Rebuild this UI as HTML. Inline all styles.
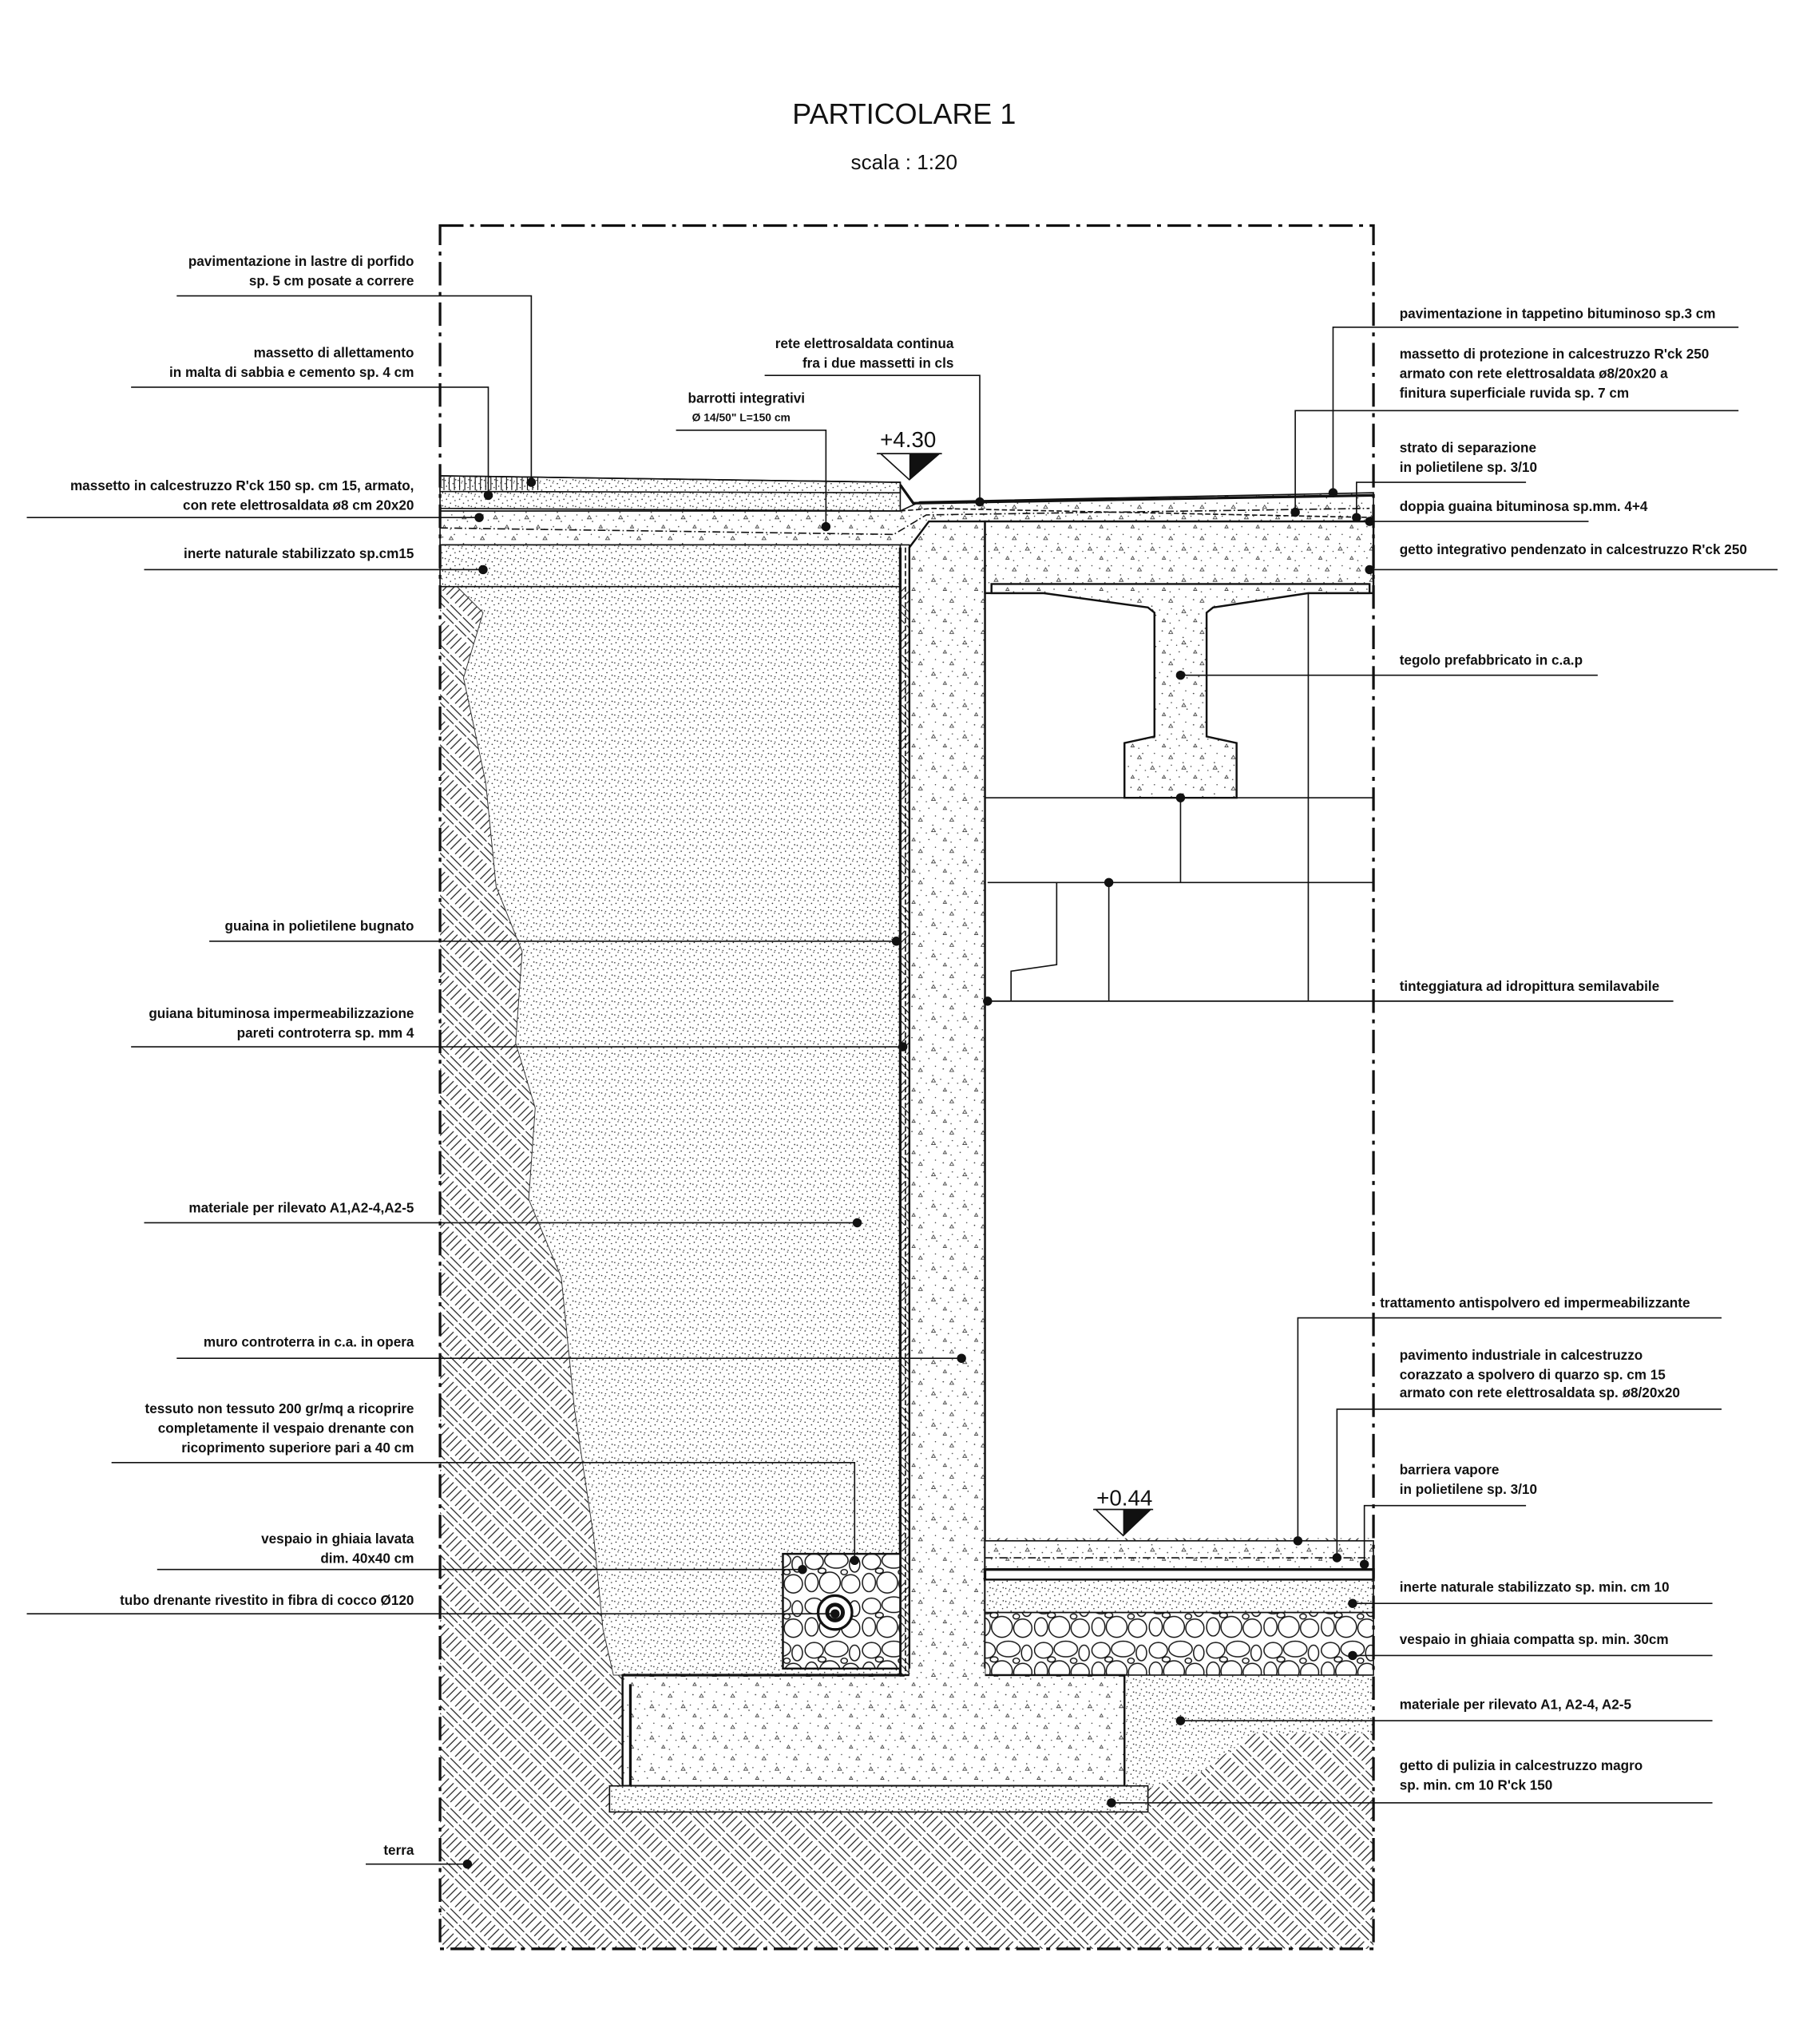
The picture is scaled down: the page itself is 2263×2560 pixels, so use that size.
<!DOCTYPE html>
<html><head><meta charset="utf-8">
<style>
html,body{margin:0;padding:0;background:#fff;}
svg{display:block;}
text{font-family:"Liberation Sans",sans-serif;fill:#111;}
.l{font-size:10.5px;font-weight:bold;}
</style></head><body>
<svg width="2263" height="2560" viewBox="0 0 1385 1568" xmlns="http://www.w3.org/2000/svg">
<defs>
<pattern id="terra" width="16" height="16" patternUnits="userSpaceOnUse" patternTransform="rotate(45) scale(1.7)">
<rect width="16" height="16" fill="#fff"/>
<g stroke="#222" stroke-width="0.45">
<path d="M0.5 1.5 H7.5 M0.5 4 H7.5 M0.5 6.5 H7.5"/>
<path d="M9.5 8.5 V15.5 M12 8.5 V15.5 M14.5 8.5 V15.5"/>
<path d="M1.5 8.5 V15.5 M4 8.5 V15.5 M6.5 8.5 V15.5"/>
<path d="M8.5 1.5 H15.5 M8.5 4 H15.5 M8.5 6.5 H15.5"/>
</g>
</pattern>
<pattern id="stip" width="10" height="10" patternUnits="userSpaceOnUse">
<rect width="10" height="10" fill="#fff"/>
<g fill="#222">
<circle cx="2" cy="3" r="0.5"/><circle cx="7" cy="1" r="0.5"/>
<circle cx="5" cy="6" r="0.5"/><circle cx="9" cy="8" r="0.5"/>
<circle cx="1" cy="8.5" r="0.5"/><circle cx="4" cy="9.2" r="0.45"/>
<circle cx="8.5" cy="4" r="0.45"/><circle cx="3.5" cy="0.5" r="0.4"/>
</g>
</pattern>
<pattern id="conc" width="24" height="24" patternUnits="userSpaceOnUse">
<rect width="24" height="24" fill="#fff"/>
<g fill="#333">
<circle cx="3" cy="4" r="0.5"/><circle cx="12" cy="2" r="0.5"/>
<circle cx="19" cy="9" r="0.5"/><circle cx="7" cy="15" r="0.5"/>
<circle cx="16" cy="20" r="0.5"/><circle cx="22" cy="16" r="0.5"/>
<circle cx="10" cy="11" r="0.45"/><circle cx="1" cy="12" r="0.45"/><circle cx="14" cy="15" r="0.45"/>
<circle cx="21" cy="2" r="0.45"/><circle cx="9" cy="22" r="0.45"/>
</g>
<path d="M8 6 l3 0 l-1.5 -2.5z M18 14 l3 0 l-1.5 -2.5z M3 21 l2.5 0 l-1.2 -2.2z" fill="none" stroke="#333" stroke-width="0.5"/>
</pattern>
<pattern id="gravel" width="44" height="34" patternUnits="userSpaceOnUse">
<rect width="44" height="34" fill="#fff"/>
<g fill="none" stroke="#111" stroke-width="0.9">
<ellipse cx="8" cy="8" rx="7" ry="6"/><ellipse cx="25" cy="7" rx="9" ry="6"/><ellipse cx="39" cy="10" rx="4" ry="6"/>
<ellipse cx="6" cy="24" rx="5" ry="7"/><ellipse cx="20" cy="24" rx="8" ry="8"/><ellipse cx="36" cy="25" rx="7" ry="7"/>
<ellipse cx="14" cy="15" rx="3" ry="2"/><ellipse cx="31" cy="16" rx="2.5" ry="2"/>
</g></pattern>
</defs>

<text x="693" y="95" font-size="22" text-anchor="middle">PARTICOLARE 1</text>
<text x="693" y="130" font-size="16" text-anchor="middle">scala : 1:20</text>

<rect x="337" y="450" width="716" height="1045" fill="url(#terra)"/>
<path d="M350 450 L690 450 L690 1285 L470 1285 L462 1250 L455 1180 L440 1080 L430 980 L405 920 L410 850 L395 800 L400 730 L380 680 L372 600 L355 520 L370 470 Z" fill="url(#stip)" stroke="#333" stroke-width="0.6"/>
<path d="M862 1285 L1053 1285 L1053 1330 L960 1330 L920 1360 L880 1372 L862 1370Z" fill="url(#stip)"/>
<rect x="755" y="455" width="298" height="725" fill="#fff"/>
<path d="M337 365 L690 370 L690 392 L337 390Z" fill="url(#stip)" stroke="#111"/>
<path d="M337 365 L690 370 L690 378 L337 377Z" fill="none" stroke="#111"/>
<g stroke="#111" stroke-width="0.7">
<path d="M340 366 v10 M344 366 v10 M348 366 v10 M352 366 v10 M356 366 v10 M360 366 v10 M364 366 v10 M368 366 v10 M372 366 v10 M376 366 v10 M380 366 v10 M384 366 v10 M388 366 v10 M392 366 v10 M396 366 v10 M400 366 v10 M404 366 v10 M408 366 v10 M412 366 v10"/>
</g>
<path d="M337 392 L690 392 L705 385 L1053 378 L1053 400 L755 400 L697 420 L697 418 L337 418Z" fill="url(#conc)" stroke="#111"/>
<path d="M337 405 L685 410 L710 395 L1050 390" fill="none" stroke="#111" stroke-dasharray="6 2 1 2"/>
<path d="M690 372 L700 386 L1053 380" fill="none" stroke="#111" stroke-width="2"/>
<path d="M690 392 L715 390 L1053 397" fill="none" stroke="#111" stroke-dasharray="4 2"/>
<rect x="337" y="418" width="353" height="32" fill="url(#stip)" stroke="#111"/>
<path d="M697 420 L712 400 L755 400 L755 1285 L697 1285Z" fill="url(#conc)" stroke="#111" stroke-width="1.5"/>
<line x1="690" y1="420" x2="690" y2="1285" stroke="#111" stroke-width="2"/>
<line x1="694" y1="420" x2="694" y2="1285" stroke="#111" stroke-width="1" stroke-dasharray="4 2"/>
<rect x="755" y="400" width="298" height="55" fill="url(#conc)" stroke="#111" stroke-width="1.5"/>
<path d="M760 448 L1050 448 L1050 455 L1003 455 L930 466 L925 470 L925 565 L948 570 L948 612 L862 612 L862 570 L885 565 L885 470 L880 466 L800 455 L760 455Z" fill="url(#conc)" stroke="#111" stroke-width="1.5"/>
<g stroke="#111" stroke-width="1" fill="none">
<line x1="755" y1="612" x2="1053" y2="612"/>
<line x1="905" y1="612" x2="905" y2="677"/>
<line x1="757" y1="677" x2="1053" y2="677"/>
<path d="M810 677 L810 740 L775 745 L775 768"/>
<line x1="850" y1="677" x2="850" y2="768"/>
<line x1="1003" y1="455" x2="1003" y2="768"/>
<line x1="757" y1="768" x2="1283" y2="768"/>
</g>
<rect x="755" y="1182" width="298" height="22" fill="url(#conc)" stroke="#111"/>
<line x1="755" y1="1195" x2="1053" y2="1195" stroke="#111" stroke-dasharray="6 2 1 2"/>
<rect x="755" y="1204" width="298" height="8" fill="#fff" stroke="#111" stroke-width="2"/>
<rect x="755" y="1212" width="298" height="25" fill="url(#stip)" stroke="#111"/>
<rect x="755" y="1237" width="298" height="48" fill="url(#gravel)" stroke="#111"/>
<rect x="477" y="1285" width="385" height="85" fill="url(#conc)" stroke="#111" stroke-width="1.5"/>
<rect x="697" y="1280" width="58" height="20" fill="url(#conc)"/>
<path d="M477 1285 L690 1285 M483 1292 L483 1370" stroke="#111" stroke-width="2" fill="none"/>
<rect x="467" y="1370" width="413" height="20" fill="url(#stip)" stroke="#111"/>
<rect x="600" y="1192" width="90" height="88" fill="url(#gravel)" stroke="#111" stroke-width="1.5"/>
<circle cx="640" cy="1237" r="13" fill="#fff" stroke="#111" stroke-width="2"/>
<circle cx="640" cy="1237" r="6" fill="#fff" stroke="#111" stroke-width="3"/>

<rect x="337" y="173" width="716" height="1322" fill="none" stroke="#111" stroke-width="2" stroke-dasharray="18 5 3 5"/>

<text x="696" y="343" font-size="17" text-anchor="middle">+4.30</text>
<line x1="672" y1="348" x2="722" y2="348" stroke="#111"/>
<path d="M675 348 L720 348 L697 368Z" fill="#fff" stroke="#111"/><path d="M697 348 L720 348 L697 368Z" fill="#111"/>
<text x="862" y="1155" font-size="17" text-anchor="middle">+0.44</text>
<line x1="838" y1="1158" x2="884" y2="1158" stroke="#111"/>
<path d="M840 1158 L882 1158 L861 1178Z" fill="#fff" stroke="#111"/><path d="M861 1158 L882 1158 L861 1178Z" fill="#111"/>

<g stroke="#111" stroke-width="1" fill="none">
<path d="M135 227 H407 V370"/>
<path d="M100 297 H374 V380"/>
<path d="M20 397 H367"/>
<path d="M110 437 H370"/>
<path d="M160 722 H687"/>
<path d="M100 803 H692"/>
<path d="M110 938 H657"/>
<path d="M135 1042 H737"/>
<path d="M85 1122 H655 V1197"/>
<path d="M120 1204 H615"/>
<path d="M20 1238 H640"/>
<path d="M280 1430 H358"/>
<path d="M586 288 H751 V385"/>
<path d="M518 330 H633 V404"/>
<path d="M1333 251 H1022 V378"/>
<path d="M1333 315 H993 V393"/>
<path d="M1170 370 H1040 V397"/>
<path d="M1050 400 H1218"/>
<path d="M1050 437 H1363"/>
<path d="M905 518 H1225"/>
<path d="M1320 1011 H995 V1182"/>
<path d="M1320 1081 H1025 V1195"/>
<path d="M1170 1155 H1046 V1200"/>
<path d="M1037 1230 H1313"/>
<path d="M1037 1270 H1313"/>
<path d="M905 1320 H1313"/>
<path d="M852 1383 H1313"/>
</g>
<g fill="#111">
<circle cx="407" cy="370" r="3.5"/><circle cx="374" cy="380" r="3.5"/><circle cx="367" cy="397" r="3.5"/><circle cx="370" cy="437" r="3.5"/>
<circle cx="687" cy="722" r="3.5"/><circle cx="692" cy="803" r="3.5"/><circle cx="657" cy="938" r="3.5"/><circle cx="737" cy="1042" r="3.5"/>
<circle cx="655" cy="1197" r="3.5"/><circle cx="615" cy="1204" r="3.5"/><circle cx="640" cy="1238" r="3.5"/><circle cx="358" cy="1430" r="3.5"/>
<circle cx="751" cy="385" r="3.5"/><circle cx="633" cy="404" r="3.5"/>
<circle cx="1022" cy="378" r="3.5"/><circle cx="993" cy="393" r="3.5"/><circle cx="1040" cy="397" r="3.5"/><circle cx="1050" cy="400" r="3.5"/><circle cx="1050" cy="437" r="3.5"/>
<circle cx="905" cy="518" r="3.5"/><circle cx="905" cy="612" r="3.5"/><circle cx="850" cy="677" r="3.5"/><circle cx="757" cy="768" r="3.5"/>
<circle cx="995" cy="1182" r="3.5"/><circle cx="1025" cy="1195" r="3.5"/><circle cx="1046" cy="1200" r="3.5"/><circle cx="1037" cy="1230" r="3.5"/><circle cx="1037" cy="1270" r="3.5"/>
<circle cx="905" cy="1320" r="3.5"/><circle cx="852" cy="1383" r="3.5"/>
</g>

<g class="l" text-anchor="end">
<text x="317" y="204">pavimentazione in lastre di porfido</text>
<text x="317" y="219">sp. 5 cm posate a correre</text>
<text x="317" y="274">massetto di allettamento</text>
<text x="317" y="289">in malta di sabbia e cemento sp. 4 cm</text>
<text x="317" y="376">massetto in calcestruzzo R'ck 150 sp. cm 15, armato,</text>
<text x="317" y="391">con rete elettrosaldata ø8 cm 20x20</text>
<text x="317" y="428">inerte naturale stabilizzato sp.cm15</text>
<text x="317" y="714">guaina in polietilene bugnato</text>
<text x="317" y="781">guiana bituminosa impermeabilizzazione</text>
<text x="317" y="796">pareti controterra sp. mm 4</text>
<text x="317" y="930">materiale per rilevato A1,A2-4,A2-5</text>
<text x="317" y="1033">muro controterra in c.a. in opera</text>
<text x="317" y="1084">tessuto non tessuto 200 gr/mq a ricoprire</text>
<text x="317" y="1099">completamente il vespaio drenante con</text>
<text x="317" y="1114">ricoprimento superiore pari a 40 cm</text>
<text x="317" y="1184">vespaio in ghiaia lavata</text>
<text x="317" y="1199">dim. 40x40 cm</text>
<text x="317" y="1231">tubo drenante rivestito in fibra di cocco Ø120</text>
<text x="317" y="1423">terra</text>
<text x="731" y="267">rete elettrosaldata continua</text>
<text x="731" y="282">fra i due massetti in cls</text>
</g>
<text class="l" x="572" y="309" text-anchor="middle">barrotti integrativi</text>
<text x="568" y="323" text-anchor="middle" font-size="8.5" font-weight="bold">Ø 14/50" L=150 cm</text>
<g class="l">
<text x="1073" y="244">pavimentazione in tappetino bituminoso sp.3 cm</text>
<text x="1073" y="275">massetto di protezione in calcestruzzo R'ck 250</text>
<text x="1073" y="290">armato con rete elettrosaldata ø8/20x20 a</text>
<text x="1073" y="305">finitura superficiale ruvida sp. 7 cm</text>
<text x="1073" y="347">strato di separazione</text>
<text x="1073" y="362">in polietilene sp. 3/10</text>
<text x="1073" y="392">doppia guaina bituminosa sp.mm. 4+4</text>
<text x="1073" y="425">getto integrativo pendenzato in calcestruzzo R'ck 250</text>
<text x="1073" y="510">tegolo prefabbricato in c.a.p</text>
<text x="1073" y="760">tinteggiatura ad idropittura semilavabile</text>
<text x="1058" y="1003">trattamento antispolvero ed impermeabilizzante</text>
<text x="1073" y="1043">pavimento industriale in calcestruzzo</text>
<text x="1073" y="1058">corazzato a spolvero di quarzo sp. cm 15</text>
<text x="1073" y="1072">armato con rete elettrosaldata sp. ø8/20x20</text>
<text x="1073" y="1131">barriera vapore</text>
<text x="1073" y="1146">in polietilene sp. 3/10</text>
<text x="1073" y="1221">inerte naturale stabilizzato sp. min. cm 10</text>
<text x="1073" y="1261">vespaio in ghiaia compatta sp. min. 30cm</text>
<text x="1073" y="1311">materiale per rilevato A1, A2-4, A2-5</text>
<text x="1073" y="1358">getto di pulizia in calcestruzzo magro</text>
<text x="1073" y="1373">sp. min. cm 10 R'ck 150</text>
</g>
</svg>
</body></html>
